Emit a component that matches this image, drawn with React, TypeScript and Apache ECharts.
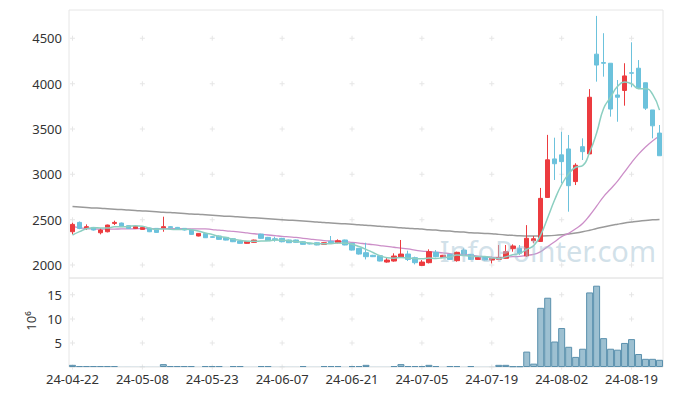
import React, { useEffect, useRef } from "react";
import * as echarts from "echarts";

const dates = [
  "24-04-22", "24-04-23", "24-04-24", "24-04-25", "24-04-26", "24-04-29", "24-04-30", "24-05-02", "24-05-03", "24-05-07",
  "24-05-08", "24-05-09", "24-05-10", "24-05-13", "24-05-14", "24-05-16", "24-05-17", "24-05-20", "24-05-21", "24-05-22",
  "24-05-23", "24-05-24", "24-05-27", "24-05-28", "24-05-29", "24-05-30", "24-05-31", "24-06-03", "24-06-04", "24-06-05",
  "24-06-07", "24-06-10", "24-06-11", "24-06-12", "24-06-13", "24-06-14", "24-06-17", "24-06-18", "24-06-19", "24-06-20",
  "24-06-21", "24-06-24", "24-06-25", "24-06-26", "24-06-27", "24-06-28", "24-07-01", "24-07-02", "24-07-03", "24-07-04",
  "24-07-05", "24-07-08", "24-07-09", "24-07-10", "24-07-11", "24-07-12", "24-07-15", "24-07-16", "24-07-17", "24-07-18",
  "24-07-19", "24-07-22", "24-07-23", "24-07-24", "24-07-25", "24-07-26", "24-07-29", "24-07-30", "24-07-31", "24-08-01",
  "24-08-02", "24-08-05", "24-08-06", "24-08-07", "24-08-08", "24-08-09", "24-08-12", "24-08-13", "24-08-14", "24-08-16",
  "24-08-19", "24-08-20", "24-08-21", "24-08-22", "24-08-23",
];

const opens = [
  2367, 2470, 2408, 2415, 2356, 2367, 2459, 2463, 2434, 2404,
  2393, 2408, 2404, 2408, 2423, 2415, 2404, 2386, 2320, 2349,
  2312, 2320, 2305, 2290, 2264, 2239, 2250, 2341, 2305, 2290,
  2294, 2276, 2276, 2257, 2239, 2246, 2228, 2261, 2246, 2276,
  2239, 2184, 2136, 2107, 2103, 2033, 2044, 2085, 2121, 2081,
  1996, 2026, 2140, 2085, 2118, 2048, 2165, 2118, 2062, 2092,
  2055, 2063, 2074, 2180, 2184, 2100, 2268, 2260, 2745, 3170,
  3215, 3280, 2920, 3305, 3225, 4325, 4232, 4225, 3875, 3925,
  4120, 4170, 4010, 3710, 3455,
];

const closes = [
  2448, 2404, 2423, 2386, 2386, 2441, 2470, 2423, 2404, 2426,
  2415, 2367, 2360, 2423, 2412, 2393, 2386, 2338, 2349, 2301,
  2305, 2283, 2275, 2257, 2239, 2261, 2275, 2294, 2268, 2276,
  2257, 2246, 2250, 2228, 2232, 2221, 2246, 2246, 2268, 2221,
  2165, 2121, 2092, 2092, 2044, 2055, 2099, 2121, 2062, 2026,
  2033, 2147, 2092, 2107, 2062, 2140, 2121, 2062, 2092, 2055,
  2074, 2081, 2147, 2210, 2129, 2295, 2290, 2735, 3160, 3117,
  3140, 2875, 3100, 3250, 3850, 4205, 4225, 3720, 3850, 4085,
  4115, 3955, 3730, 3535, 3205,
];

const lows = [
  2338, 2395, 2386, 2380, 2338, 2360, 2441, 2420, 2400, 2400,
  2390, 2363, 2356, 2367, 2405, 2390, 2380, 2334, 2316, 2298,
  2300, 2280, 2272, 2253, 2236, 2235, 2246, 2290, 2265, 2257,
  2250, 2243, 2246, 2225, 2228, 2218, 2225, 2239, 2239, 2218,
  2160, 2115, 2062, 2088, 2040, 2026, 2037, 2084, 2044, 2007,
  1989, 2018, 2085, 2080, 2058, 2037, 2110, 2058, 2058, 2050,
  2018, 2055, 2070, 2147, 2110, 2090, 2240, 2255, 2740, 2938,
  2901, 2588, 2882, 3158, 3224, 4022, 4077, 3636, 3580, 3757,
  3960, 3940, 3710, 3397, 3205,
];

const highs = [
  2467, 2480, 2448, 2420, 2404, 2445, 2489, 2468, 2440, 2430,
  2420, 2412, 2408, 2533, 2430, 2420, 2408, 2390, 2352, 2352,
  2318, 2325, 2308, 2295, 2268, 2265, 2280, 2345, 2310, 2313,
  2300, 2280, 2280, 2262, 2244, 2250, 2250, 2320, 2283, 2280,
  2243, 2188, 2246, 2112, 2106, 2085, 2129, 2276, 2158, 2092,
  2055, 2173, 2165, 2112, 2122, 2147, 2184, 2122, 2096, 2096,
  2092, 2221, 2221, 2228, 2221, 2440, 2320, 2850, 3435, 3404,
  3470, 3434, 3122, 3397, 3940, 4747, 4556, 4225, 4040, 4225,
  4456, 4260, 4010, 3710, 3544,
];

const ma5 = [
  2331, 2368, 2400, 2412, 2409, 2408, 2421, 2421, 2425, 2433,
  2428, 2407, 2394, 2398, 2395, 2391, 2395, 2390, 2376, 2353,
  2336, 2315, 2303, 2284, 2272, 2263, 2261, 2265, 2267, 2275,
  2274, 2268, 2259, 2251, 2243, 2235, 2235, 2235, 2243, 2240,
  2229, 2204, 2173, 2138, 2103, 2081, 2076, 2082, 2076, 2073,
  2068, 2078, 2072, 2081, 2088, 2110, 2104, 2098, 2095, 2094,
  2081, 2073, 2090, 2113, 2128, 2172, 2214, 2332, 2522, 2719,
  2888, 3005, 3078, 3096, 3243, 3456, 3726, 3850, 3970, 4017,
  3999, 3945, 3945, 3884, 3708,
];

const ma20 = [
  2425, 2410, 2402, 2398, 2396, 2396, 2397, 2398, 2399, 2400,
  2401, 2401, 2402, 2402, 2402, 2401, 2400, 2399, 2398, 2398,
  2391, 2385, 2377, 2371, 2363, 2354, 2345, 2338, 2331, 2324,
  2316, 2310, 2304, 2295, 2286, 2277, 2270, 2265, 2261, 2257,
  2250, 2242, 2233, 2225, 2215, 2205, 2196, 2187, 2177, 2165,
  2153, 2148, 2141, 2135, 2126, 2122, 2116, 2107, 2098, 2089,
  2085, 2083, 2086, 2092, 2096, 2108, 2117, 2148, 2203, 2257,
  2313, 2349, 2400, 2457, 2546, 2649, 2755, 2838, 2925, 3027,
  3129, 3223, 3302, 3368, 3422,
];

const maLong = [
  2645, 2640, 2635, 2630, 2626, 2621, 2616, 2611, 2606, 2602,
  2597, 2592, 2587, 2582, 2578, 2573, 2568, 2563, 2559, 2554,
  2549, 2544, 2539, 2535, 2530, 2525, 2520, 2515, 2510, 2505,
  2500, 2495, 2490, 2485, 2480, 2475, 2469, 2464, 2459, 2454,
  2449, 2444, 2438, 2433, 2428, 2422, 2417, 2412, 2406, 2401,
  2396, 2390, 2385, 2379, 2374, 2368, 2363, 2357, 2352, 2348,
  2345, 2338, 2332, 2327, 2323, 2321, 2320, 2321, 2323, 2327,
  2333, 2341, 2352, 2366, 2383, 2402, 2420, 2436, 2450, 2463,
  2474, 2484, 2492, 2498, 2503,
];

const volumes = [
  450000, 200000, 200000, 200000, 200000, 200000, 200000, 50000, 50000, 50000,
  50000, 50000, 50000, 600000, 200000, 200000, 200000, 200000, 50000, 200000,
  200000, 200000, 50000, 200000, 200000, 50000, 50000, 200000, 200000, 50000,
  50000, 50000, 50000, 200000, 50000, 50000, 200000, 200000, 200000, 50000,
  200000, 200000, 450000, 50000, 50000, 50000, 200000, 600000, 200000, 200000,
  200000, 450000, 200000, 50000, 200000, 200000, 50000, 200000, 50000, 50000,
  50000, 450000, 450000, 150000, 150000, 3200000, 700000, 12300000, 14400000, 5300000,
  8100000, 4200000, 2100000, 3800000, 15500000, 16900000, 6000000, 3800000, 3600000, 5000000,
  5800000, 2700000, 1700000, 1700000, 1500000,
];

const priceTicks = [2000, 2500, 3000, 3500, 4000, 4500];
const volumeTicks = [0, 5000000, 10000000, 15000000];
const labelEvery = 10;

const FONT = "Noto Sans";
const UP = "#ec3b3f";
const DOWN = "#6cc2dc";

export default function App() {
  const ref = useRef<HTMLDivElement>(null);

  useEffect(() => {
    if (!ref.current) return;
    const chart = echarts.init(ref.current, null, { renderer: "svg" });

    const candleData = dates.map((_, i) => [opens[i], closes[i], lows[i], highs[i]]);
    const volData = volumes.map((v) => ({
      value: v,
      itemStyle: { borderWidth: v < 100000 ? 0 : 1 },
    }));
    const gridCats: number[] = [];
    for (let i = 0; i < dates.length; i += labelEvery) gridCats.push(i);
    const priceCross: number[][] = [];
    gridCats.forEach((c) => priceTicks.forEach((t) => priceCross.push([c, t])));
    const volCross: number[][] = [];
    gridCats.forEach((c) => volumeTicks.forEach((t) => volCross.push([c, t])));

    const crossSymbol = "path://M2,0h1v2h2v1h-2v2h-1v-2h-2v-1h2z";

    const option: any = {
      animation: false,
      textStyle: { fontFamily: FONT },
      grid: [
        { left: 69, right: 10, top: 10, height: 268, show: true, borderColor: "#e6e6e6", borderWidth: 1, backgroundColor: "transparent" },
        { left: 69, right: 10, top: 278, height: 89, show: true, borderColor: "#e6e6e6", borderWidth: 1, backgroundColor: "transparent" },
      ],
      xAxis: [
        {
          type: "category",
          data: dates,
          gridIndex: 0,
          boundaryGap: true,
          axisLine: { show: false },
          axisTick: { show: false },
          axisLabel: { show: false },
          splitLine: { show: false },
        },
        {
          type: "category",
          data: dates,
          gridIndex: 1,
          boundaryGap: true,
          axisLine: { show: false },
          axisTick: { show: false },
          axisLabel: {
            show: true,
            interval: labelEvery - 1,
            color: "#333",
            fontSize: 13,
            fontFamily: FONT,
            margin: 5,
          },
          splitLine: { show: false },
        },
      ],
      yAxis: [
        {
          type: "value",
          gridIndex: 0,
          min: 1857,
          max: 4812,
          scale: true,
          axisLine: { show: false },
          axisTick: { show: false },
          splitLine: { show: false },
          axisLabel: {
            color: "#333",
            fontSize: 13,
            fontFamily: FONT,
            margin: 7,
            showMinLabel: false,
            showMaxLabel: false,
            formatter: (v: number) => String(v),
          },
        },
        {
          type: "value",
          gridIndex: 1,
          min: 0,
          max: 18500000,
          interval: 5000000,
          axisLine: { show: false },
          axisTick: { show: false },
          splitLine: { show: false },
          axisLabel: {
            color: "#333",
            fontSize: 13,
            fontFamily: FONT,
            margin: 7,
            showMinLabel: false,
            showMaxLabel: false,
            formatter: (v: number) => String(Math.round(v / 1000000)),
          },
        },
      ],
      series: [
        {
          type: "scatter",
          xAxisIndex: 0,
          yAxisIndex: 0,
          data: priceCross,
          symbol: crossSymbol,
          symbolSize: 5,
          itemStyle: { color: "#e0e0e0" },
          silent: true,
          z: 0,
        },
        {
          type: "scatter",
          xAxisIndex: 1,
          yAxisIndex: 1,
          data: volCross,
          symbol: crossSymbol,
          symbolSize: 5,
          itemStyle: { color: "#e0e0e0" },
          silent: true,
          z: 0,
        },
        {
          type: "line",
          xAxisIndex: 0,
          yAxisIndex: 0,
          data: maLong,
          showSymbol: false,
          smooth: true,
          lineStyle: { color: "#9a9a9a", width: 1.5 },
          z: 2,
        },
        {
          type: "line",
          xAxisIndex: 0,
          yAxisIndex: 0,
          data: ma20,
          showSymbol: false,
          smooth: true,
          lineStyle: { color: "#cc8ec8", width: 1.3 },
          z: 2,
        },
        {
          type: "candlestick",
          xAxisIndex: 0,
          yAxisIndex: 0,
          data: candleData,
          barWidth: 5,
          itemStyle: {
            color: UP,
            color0: DOWN,
            borderColor: UP,
            borderColor0: DOWN,
            borderWidth: 1,
          },
          z: 3,
        },
        {
          type: "line",
          xAxisIndex: 0,
          yAxisIndex: 0,
          data: ma5,
          showSymbol: false,
          smooth: true,
          lineStyle: { color: "#8ccfc1", width: 1.5 },
          z: 4,
        },
        {
          type: "bar",
          xAxisIndex: 1,
          yAxisIndex: 1,
          data: volData,
          barWidth: "100%",
          barCategoryGap: 0,
          itemStyle: {
            color: "#9dc0d1",
            borderColor: "#5a90ad",
            borderWidth: 1,
          },
          z: 3,
        },
      ],
      graphic: [
        {
          type: "text",
          right: 17,
          top: 236,
          z: 10,
          silent: true,
          style: {
            text: "InfoPointer.com",
            fontSize: 29,
            fontFamily: FONT,
            fill: "rgba(165,195,212,0.5)",
          },
        },
        {
          type: "text",
          x: 31,
          y: 321,
          rotation: Math.PI / 2,
          silent: true,
          style: {
            text: "10⁶",
            fontSize: 13,
            fontFamily: FONT,
            fill: "#333",
            align: "center",
            verticalAlign: "middle",
          },
        },
      ],
    };

    chart.setOption(option);
    return () => chart.dispose();
  }, []);

  return (
    <div
      ref={ref}
      style={{ position: "fixed", left: 0, top: 0, width: 673, height: 396, background: "#fff" }}
    />
  );
}
